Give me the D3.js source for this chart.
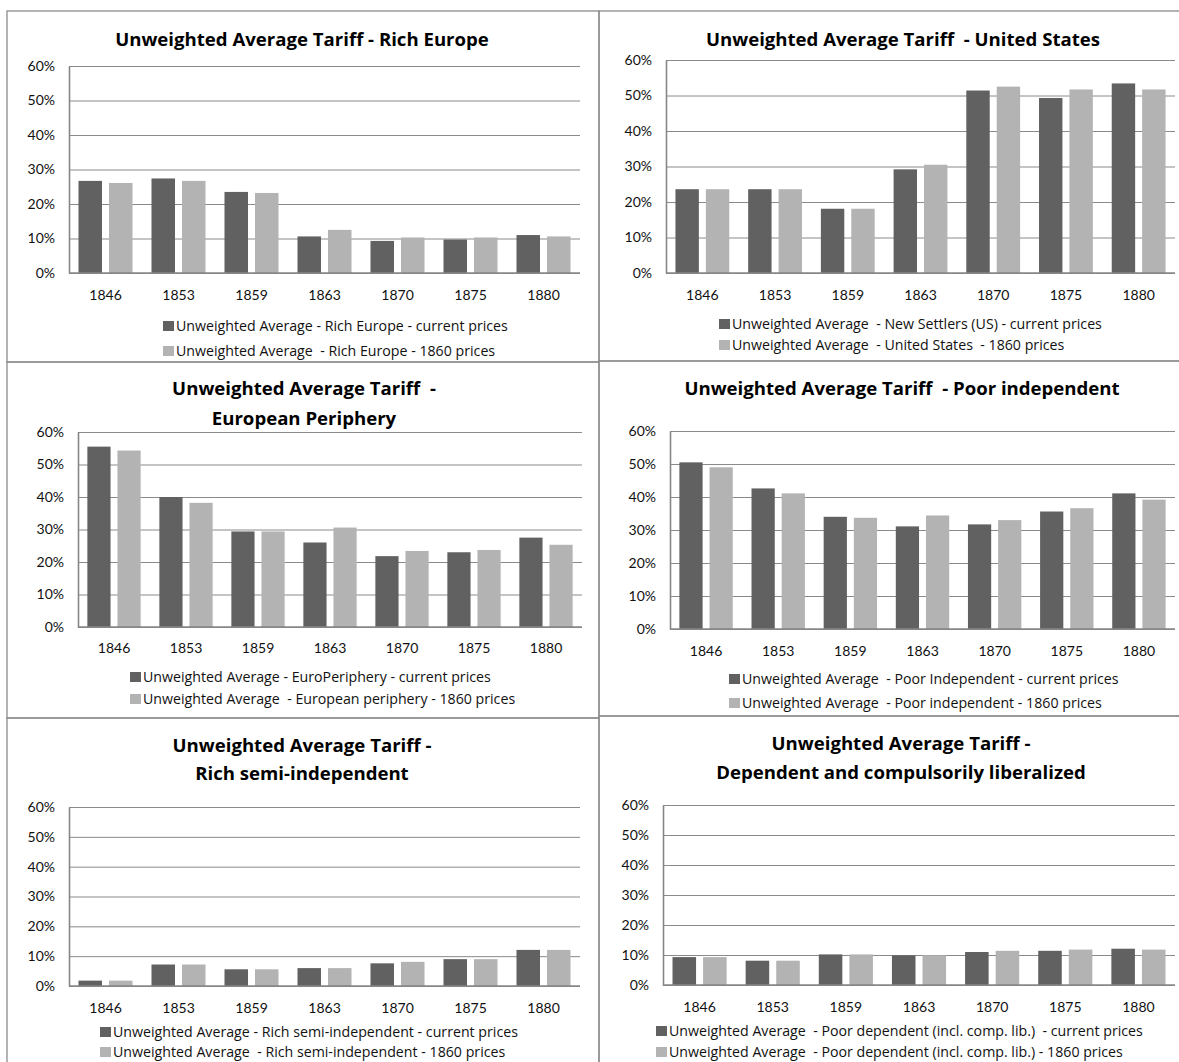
<!DOCTYPE html>
<html>
<head>
<meta charset="utf-8">
<script src="https://cdn.jsdelivr.net/npm/d3@7"></script>
<style>
  body { margin: 0; background: #fff; }
  text { font-family: Lato, "Open Sans", sans-serif; fill: #111; }
</style>
</head>
<body>
<div id="wrapper"></div>
<script>
// categories
const years = ["1846", "1853", "1859", "1863", "1870", "1875", "1880"];
const yTicks = [0, 10, 20, 30, 40, 50, 60];

// series values, %
const richEuropeCurrent = [26.7, 27.4, 23.5, 10.6, 9.3, 9.7, 11.0];
const richEurope1860    = [26.1, 26.7, 23.2, 12.5, 10.3, 10.3, 10.6];
const usCurrent         = [23.6, 23.6, 18.1, 29.2, 51.4, 49.3, 53.4];
const us1860            = [23.6, 23.6, 18.1, 30.5, 52.5, 51.7, 51.7];
const euroPeriphCurrent = [55.5, 40.0, 29.4, 26.0, 21.8, 23.0, 27.5];
const euroPeriph1860    = [54.3, 38.2, 29.4, 30.6, 23.4, 23.7, 25.3];
const poorIndepCurrent  = [50.5, 42.6, 34.0, 31.1, 31.7, 35.6, 41.1];
const poorIndep1860     = [49.0, 41.1, 33.7, 34.4, 33.0, 36.6, 39.2];
const richSemiCurrent   = [1.8, 7.2, 5.6, 6.0, 7.6, 9.0, 12.1];
const richSemi1860      = [1.8, 7.2, 5.6, 6.0, 8.1, 9.0, 12.1];
const dependentCurrent  = [9.3, 8.1, 10.2, 9.9, 11.0, 11.4, 12.1];
const dependent1860     = [9.3, 8.1, 10.2, 9.9, 11.4, 11.8, 11.8];

// titles and legend labels
const titles = [
    ["Unweighted Average Tariff - Rich Europe"],
    ["Unweighted Average Tariff  - United States"],
    ["Unweighted Average Tariff  -", "European Periphery"],
    ["Unweighted Average Tariff  - Poor independent"],
    ["Unweighted Average Tariff -", "Rich semi-independent"],
    ["Unweighted Average Tariff -", "Dependent and compulsorily liberalized"]
];
const legendLabels = [
    ["Unweighted Average - Rich Europe - current prices", "Unweighted Average  - Rich Europe - 1860 prices"],
    ["Unweighted Average  - New Settlers (US) - current prices", "Unweighted Average  - United States  - 1860 prices"],
    ["Unweighted Average - EuroPeriphery - current prices", "Unweighted Average  - European periphery - 1860 prices"],
    ["Unweighted Average  - Poor Independent - current prices", "Unweighted Average  - Poor independent - 1860 prices"],
    ["Unweighted Average - Rich semi-independent - current prices", "Unweighted Average  - Rich semi-independent - 1860 prices"],
    ["Unweighted Average  - Poor dependent (incl. comp. lib.)  - current prices", "Unweighted Average  - Poor dependent (incl. comp. lib.) - 1860 prices"]
];
const seriesData = [
    [richEuropeCurrent, richEurope1860],
    [usCurrent, us1860],
    [euroPeriphCurrent, euroPeriph1860],
    [poorIndepCurrent, poorIndep1860],
    [richSemiCurrent, richSemi1860],
    [dependentCurrent, dependent1860]
];

// layout of the six boxes
const layout = [
    {box: [7, 11, 599, 362],    x: [69, 580],   y: [66, 273],  titleX: 302, titleY: [39],      tickY: 295,  legY: [326, 351],   legX: 163},
    {box: [599, 11, 1186, 361], x: [666, 1175], y: [60, 273],  titleX: 903, titleY: [39],      tickY: 295,  legY: [324, 345],   legX: 719},
    {box: [7, 362, 599, 718],   x: [78, 582],   y: [432, 627], titleX: 304, titleY: [388, 418], tickY: 648, legY: [677, 699],  legX: 130},
    {box: [599, 361, 1186, 716],x: [670, 1175], y: [431, 629], titleX: 902, titleY: [388],     tickY: 651,  legY: [679, 703],   legX: 729},
    {box: [7, 718, 599, 1070],  x: [69, 580],   y: [807, 986], titleX: 302, titleY: [745, 773], tickY: 1008, legY: [1032, 1052], legX: 100},
    {box: [599, 716, 1186, 1070],x: [663, 1175],y: [805, 985], titleX: 901, titleY: [743, 772], tickY: 1007, legY: [1031, 1052], legX: 656}
];

const colors = ["#616161", "#b3b3b3"];

const svg = d3.select("#wrapper").append("svg")
    .attr("width", 1179)
    .attr("height", 1062);

layout.forEach((p, i) => {
    const g = svg.append("g");

    g.append("rect")
        .attr("x", p.box[0]).attr("y", p.box[1])
        .attr("width", p.box[2] - p.box[0]).attr("height", p.box[3] - p.box[1])
        .attr("fill", "none")
        .attr("stroke", "#8c8c8c")
        .attr("stroke-width", 1.3);

    // title
    g.append("text")
        .attr("text-anchor", "middle")
        .style("white-space", "pre")
        .style("font-family", "'Open Sans', sans-serif")
        .style("font-weight", "bold")
        .style("font-size", "18.6px")
        .style("fill", "#000")
        .selectAll("tspan")
        .data(titles[i])
        .join("tspan")
        .attr("x", p.titleX)
        .attr("y", (d, j) => p.titleY[j])
        .attr("dy", "0.35em")
        .text(d => d);

    const yScale = d3.scaleLinear().domain([0, 60]).range([p.y[1], p.y[0]]);
    const x0 = d3.scaleBand().domain(years).range(p.x).paddingInner(0.26).paddingOuter(0.13);
    const x1 = d3.scaleBand().domain([0, 1]).range([0, x0.bandwidth()]).paddingInner(0.23);

    // gridlines
    g.append("g")
        .attr("transform", `translate(${p.x[0]},0)`)
        .call(d3.axisLeft(yScale).tickValues(yTicks).tickSize(-(p.x[1] - p.x[0])).tickFormat(""))
        .call(a => a.select(".domain").remove())
        .call(a => a.selectAll("line").attr("stroke", "#8a8a8a").attr("stroke-width", 1));

    // bars
    seriesData[i].forEach((vals, s) => {
        g.append("g")
            .selectAll("rect")
            .data(vals)
            .join("rect")
            .attr("x", (d, k) => x0(years[k]) + x1(s))
            .attr("width", x1.bandwidth())
            .attr("y", d => yScale(d))
            .attr("height", d => yScale(0) - yScale(d))
            .attr("fill", colors[s]);
    });

    // y axis
    const yAxis = g.append("g")
        .attr("transform", `translate(${p.x[0]},0)`)
        .call(d3.axisLeft(yScale).tickValues(yTicks).tickSize(0).tickPadding(14).tickFormat(d => d + "%"));
    yAxis.select(".domain").attr("stroke", "#868686").attr("stroke-width", 1.6);
    yAxis.selectAll("text").style("font-size", "14px").attr("fill", "#111");

    // x axis
    const xAxis = g.append("g")
        .attr("transform", `translate(0,${p.y[1]})`)
        .call(d3.axisBottom(x0).tickSize(0).tickSizeOuter(0).tickPadding(0));
    xAxis.select(".domain").attr("stroke", "#868686").attr("stroke-width", 1.6)
        .attr("d", `M${p.x[0]},0H${p.x[1]}`);
    xAxis.selectAll("text")
        .attr("y", p.tickY - p.y[1])
        .attr("dy", "0.35em")
        .style("font-size", "14px")
        .attr("fill", "#111");

    // legend
    const leg = g.append("g");
    legendLabels[i].forEach((lab, s) => {
        leg.append("rect")
            .attr("x", p.legX)
            .attr("y", p.legY[s] - 5)
            .attr("width", 11)
            .attr("height", 10)
            .attr("fill", colors[s]);
        leg.append("text")
            .attr("x", p.legX + 13)
            .attr("y", p.legY[s])
            .attr("dy", "0.35em")
            .style("white-space", "pre")
            .style("font-family", "'Open Sans', sans-serif")
            .style("font-size", "14.2px")
            .text(lab);
    });
});
</script>
</body>
</html>
